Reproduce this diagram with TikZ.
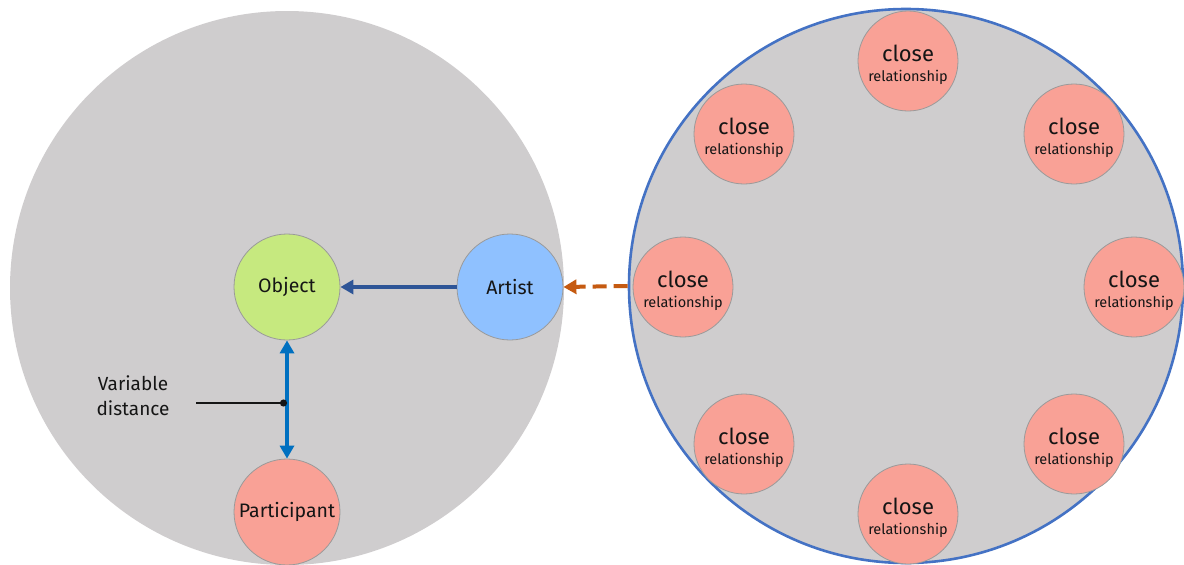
\documentclass[tikz,border=0pt]{standalone}
\usepackage{fontspec}
\setmainfont{Fira Sans}
\usetikzlibrary{arrows.meta}

\definecolor{bggray}{HTML}{CFCDCE}
\definecolor{ringblue}{HTML}{4472C4}
\definecolor{objgreen}{HTML}{C6E97F}
\definecolor{artblue}{HTML}{8FC1FF}
\definecolor{salmon}{HTML}{F9A196}
\definecolor{edgegray}{HTML}{9A9A9A}
\definecolor{darkarrow}{HTML}{2E5597}
\definecolor{brightarrow}{HTML}{0070C0}
\definecolor{rust}{HTML}{C55A11}
\definecolor{ink}{HTML}{151515}

\tikzset{
  bigdisc/.style={circle, minimum size=554pt, inner sep=0pt, fill=bggray},
  roledisc/.style={circle, minimum size=106pt, inner sep=0pt, draw=edgegray,
    line width=0.8pt, text=ink, font=\fontsize{19.5}{20}\selectfont},
  closedisc/.style={circle, minimum size=100pt, inner sep=0pt, draw=edgegray,
    line width=0.8pt, fill=salmon, text=ink,
    font=\fontsize{14.5}{21}\selectfont},
  thickarrow/.style={line width=4pt, -{Triangle[length=13pt,width=14pt]}},
}

% two-line label; extra declared height lowers it a little inside its disc
\newcommand{\closelabel}{\raisebox{0pt}[\dimexpr\height+10pt\relax][\depth]{\begin{tabular}{@{}c@{}}{\fontsize{22}{21}\selectfont close}\\[-1pt]relationship\end{tabular}}}

\begin{document}
\begin{tikzpicture}[x=1pt,y=-1pt]
  \useasboundingbox (0,0) rectangle (1184,565);

  % the two large discs
  \node[bigdisc] (left) at (287,288) {};
  \node[bigdisc, draw=ringblue, line width=2.6pt] (right) at (906,286) {};

  % left disc: object, artist, participant
  \node[roledisc, fill=objgreen] (object) at (287,287) {Object};
  \node[roledisc, fill=artblue] (artist) at (510,287) {Artist};
  \node[roledisc, fill=salmon] (participant) at (287,512) {Participant};

  \draw[thickarrow, darkarrow] (artist.west) -- (object.east);
  \draw[line width=4pt, brightarrow,
        {Triangle[length=13pt,width=14pt]}-{Triangle[length=13pt,width=14pt]}]
    (object.south) -- (participant.north)
    coordinate[pos=0.53] (mid);

  \node[text=ink, align=center, font=\fontsize{19}{25}\selectfont] (vlabel) at (133,396) {Variable\\distance};
  \coordinate (vstart) at (196,403);
  \draw[line width=2pt, ink, -{Circle[length=7pt]}] (vstart) -- (vstart -| mid);

  % right disc: ring of close relationships
  \node[closedisc] (c1) at (908,61) {\closelabel};
  \node[closedisc] (c2) at (1074,134) {\closelabel};
  \node[closedisc] (c3) at (1134,287) {\closelabel};
  \node[closedisc] (c4) at (1074,444) {\closelabel};
  \node[closedisc] (c5) at (908,514) {\closelabel};
  \node[closedisc] (c6) at (744,444) {\closelabel};
  \node[closedisc] (c7) at (683,287) {\closelabel};
  \node[closedisc] (c8) at (744,134) {\closelabel};

  \draw[line width=4pt, rust, dash pattern=on 14pt off 7pt,
        -{Triangle[length=13pt,width=14pt]}]
    (right.west) -- (artist.east);
\end{tikzpicture}
\end{document}
